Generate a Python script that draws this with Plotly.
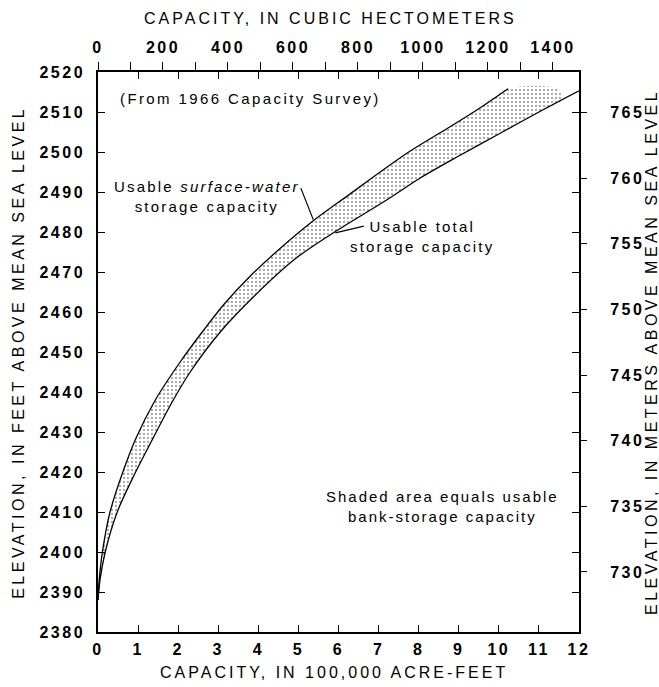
import plotly.graph_objects as go

# ---------------- data ----------------
# Usable surface-water storage capacity curve: capacity (100,000 acre-ft) vs elevation (ft)
surface_cap = [0, 0.03, 0.11, 0.30, 0.62, 0.95, 1.43, 2.05, 2.60, 3.15, 3.80, 4.50, 5.37, 6.30, 7.04, 7.80, 8.70, 9.50, 10.23]
surface_elev = [2388, 2393, 2400, 2410, 2420, 2428.5, 2438, 2447.5, 2455, 2462, 2469, 2475.5, 2482.8, 2489.6, 2495, 2500.3, 2505.8, 2510.8, 2515.8]

# Usable total storage capacity curve
total_cap = [0, 0.05, 0.18, 0.48, 0.89, 1.35, 1.85, 2.30, 3.05, 3.90, 4.96, 5.95, 7.20, 8.04, 9.00, 10.00, 11.00, 12.00]
total_elev = [2388, 2393, 2400, 2410, 2419, 2428, 2437.5, 2445, 2455, 2464, 2473.6, 2480.3, 2488, 2493.5, 2499, 2504.5, 2510, 2515.3]

# right-hand end of the shaded (bank-storage) band at the top
shade_edge_cap = [11.45, 11.58]
shade_edge_elev = [2515.8, 2513.1]

# axes / ticks
cap_ticks = [0, 1, 2, 3, 4, 5, 6, 7, 8, 9, 10, 11, 12]
elev_ft_ticks = [2380, 2390, 2400, 2410, 2420, 2430, 2440, 2450, 2460, 2470, 2480, 2490, 2500, 2510, 2520]
elev_m_ticks = [730, 735, 740, 745, 750, 755, 760, 765]
hm3_ticks = [0, 100, 200, 300, 400, 500, 600, 700, 800, 900, 1000, 1100, 1200, 1300, 1400]
hm3_labels = ["0", "", "200", "", "400", "", "600", "", "800", "", "1000", "", "1200", "", "1400"]

CAP_RANGE = [0, 12]
ELEV_RANGE = [2380, 2520]
HM3_PER_UNIT = 123.348   # 100,000 acre-ft in cubic hectometres
M_PER_FT = 0.3048

FONT = "Liberation Sans"


def sp(text, s):
    return f"<span style='letter-spacing:{s}px'>{text}</span>"


fig = go.Figure()

# shaded band between curves
lower_back = [(c, e) for c, e in zip(total_cap, total_elev) if c <= 11.0][::-1]
poly_x = surface_cap + shade_edge_cap + [c for c, _ in lower_back]
poly_y = surface_elev + shade_edge_elev + [e for _, e in lower_back]
fig.add_trace(go.Scatter(
    x=poly_x, y=poly_y, mode="lines", fill="toself",
    line=dict(width=0, color="rgba(0,0,0,0)", shape="spline", smoothing=0.9),
    fillcolor="rgba(255,255,255,0)",
    fillpattern=dict(shape=".", fgcolor="#222222", bgcolor="white", size=4, solidity=0.2),
    hoverinfo="skip", showlegend=False))

# curves
for cx, cy in ((surface_cap, surface_elev), (total_cap, total_elev)):
    fig.add_trace(go.Scatter(x=cx, y=cy, mode="lines",
                             line=dict(color="black", width=1.3, shape="spline", smoothing=0.9),
                             showlegend=False, hoverinfo="skip"))

# invisible trace to activate secondary (metric) axes
fig.add_trace(go.Scatter(
    x=[CAP_RANGE[0] * HM3_PER_UNIT, CAP_RANGE[1] * HM3_PER_UNIT],
    y=[ELEV_RANGE[0] * M_PER_FT, ELEV_RANGE[1] * M_PER_FT],
    xaxis="x2", yaxis="y2", mode="markers", marker=dict(opacity=0),
    hoverinfo="skip", showlegend=False))

tickfont = dict(family=FONT, size=16, color="black", weight="bold")

fig.update_layout(
    width=659, height=687,
    margin=dict(l=98, r=80, t=72, b=55),
    plot_bgcolor="white", paper_bgcolor="white",
    showlegend=False,
    xaxis=dict(range=CAP_RANGE, tickvals=cap_ticks, ticktext=[sp(v, 2.5) for v in cap_ticks],
               ticks="inside", ticklen=7, tickwidth=1, tickcolor="black",
               showline=True, linecolor="black", linewidth=1.5, mirror="ticks",
               showgrid=False, zeroline=False, tickfont=tickfont, ticklabelstandoff=2),
    xaxis2=dict(range=[CAP_RANGE[0] * HM3_PER_UNIT, CAP_RANGE[1] * HM3_PER_UNIT],
                overlaying="x", side="top", anchor="y",
                tickvals=hm3_ticks, ticktext=[sp(t, 2.5) if t else "" for t in hm3_labels],
                ticks="outside", ticklen=9, tickwidth=1, tickcolor="black",
                showline=False, showgrid=False, zeroline=False, tickfont=tickfont,
                ticklabelstandoff=3),
    yaxis=dict(range=ELEV_RANGE, tickvals=elev_ft_ticks, ticktext=[sp(v, 2.5) for v in elev_ft_ticks],
               ticks="inside", ticklen=7, tickwidth=1, tickcolor="black",
               showline=True, linecolor="black", linewidth=1.5, mirror="ticks",
               showgrid=False, zeroline=False, tickfont=tickfont, ticklabelstandoff=8),
    yaxis2=dict(range=[ELEV_RANGE[0] * M_PER_FT, ELEV_RANGE[1] * M_PER_FT],
                overlaying="y", side="right", anchor="x",
                tickvals=elev_m_ticks, ticktext=[sp(v, 2.5) for v in elev_m_ticks],
                ticks="outside", ticklen=7, tickwidth=1, tickcolor="black",
                showline=False, showgrid=False, zeroline=False, tickfont=tickfont,
                ticklabelstandoff=20),
)

title_font = dict(family=FONT, size=16, color="black")
ann_font = dict(family=FONT, size=15, color="black")

annotations = [
    # axis titles
    dict(text=sp("CAPACITY, IN CUBIC HECTOMETERS", 3.0), xref="paper", yref="paper",
         x=0.483, y=1.0964, xanchor="center", yanchor="middle", showarrow=False, font=title_font),
    dict(text=sp("CAPACITY, IN 100,000 ACRE-FEET", 3.0), xref="paper", yref="paper",
         x=0.49, y=-0.0732, xanchor="center", yanchor="middle", showarrow=False, font=title_font),
    dict(text=sp("ELEVATION, IN FEET ABOVE MEAN SEA LEVEL", 3.5), xref="paper", yref="paper",
         x=-0.1666, y=0.5, xanchor="center", yanchor="middle", textangle=-90, showarrow=False,
         font=title_font),
    dict(text=sp("ELEVATION, IN METERS ABOVE MEAN SEA LEVEL", 3.5), xref="paper", yref="paper",
         x=1.1496, y=0.5, xanchor="center", yanchor="middle", textangle=-90, showarrow=False,
         font=title_font),
    # text notes
    dict(text=sp("(From 1966 Capacity Survey)", 2.4), x=0.5, y=2513.3, xanchor="left",
         yanchor="middle", showarrow=False, font=ann_font),
    dict(text=sp("Usable <i>surface-water</i>", 2.2) + "<br>" + sp("storage capacity", 2.2),
         x=2.73, y=2488.8, xanchor="center", yanchor="middle", showarrow=False, font=ann_font),
    dict(text=sp("Usable total", 2.2) + "<br>" + sp("storage capacity", 2.2),
         x=8.09, y=2478.8, xanchor="center", yanchor="middle", showarrow=False, font=ann_font),
    dict(text=sp("Shaded area equals usable", 2.0) + "<br>" + sp("bank-storage capacity", 2.0),
         x=8.59, y=2411.4, xanchor="center", yanchor="middle", showarrow=False, font=ann_font),
    # pointer lines
    dict(text="", x=5.37, y=2483.1, ax=-13, ay=-33, showarrow=True, arrowhead=0,
         arrowwidth=1.2, arrowcolor="black"),
    dict(text="", x=5.92, y=2479.8, ax=30, ay=-7, showarrow=True, arrowhead=0,
         arrowwidth=1.2, arrowcolor="black"),
]
fig.update_layout(annotations=annotations)

fig.write_html("out.html")
